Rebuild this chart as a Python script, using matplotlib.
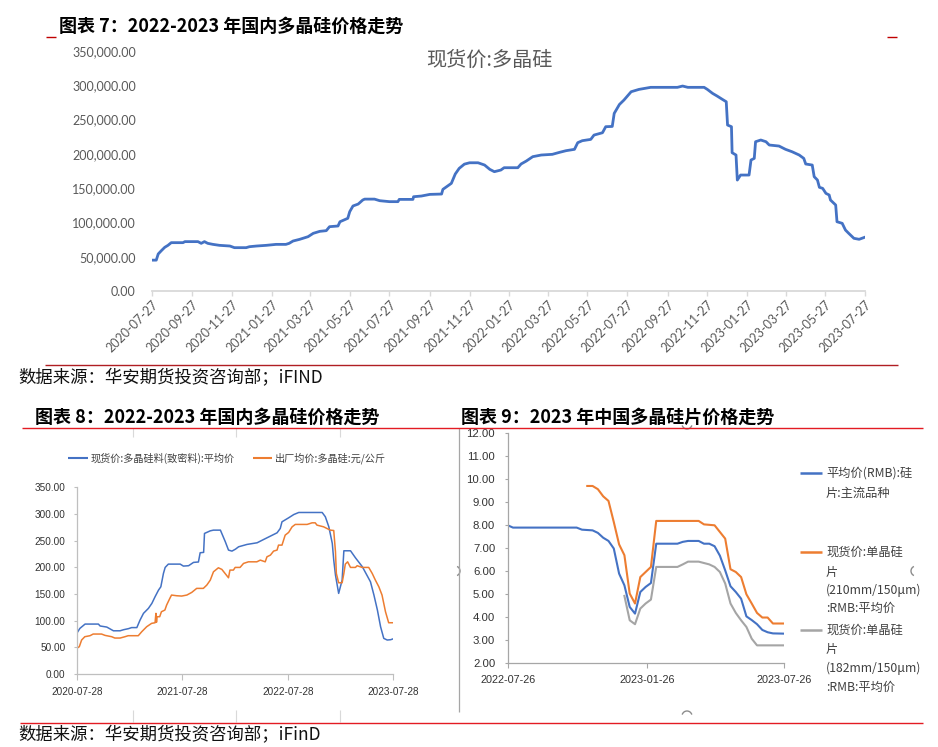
import matplotlib
matplotlib.use('Agg')
import matplotlib.pyplot as plt
from matplotlib.lines import Line2D
from matplotlib import patches
import pandas as pd

W, H = 938, 747
CJK = ['Noto Sans CJK SC', 'DejaVu Sans']
NUM_TOP = ['Lato', 'DejaVu Sans']
NARROW = ['Liberation Sans', 'DejaVu Sans']

# ---------------- data: chart 7 (现货价:多晶硅) ----------------
top_dates = ["2020-07-27", "2020-08-03", "2020-08-06", "2020-08-11", "2020-08-16", "2020-08-21", "2020-08-26",
             "2020-09-13", "2020-09-16", "2020-10-06", "2020-10-11", "2020-10-16", "2020-10-21", "2020-10-29",
             "2020-11-08", "2020-11-24", "2020-12-01", "2020-12-19", "2020-12-24", "2021-01-04", "2021-01-19",
             "2021-02-03", "2021-02-18", "2021-02-23", "2021-03-01", "2021-03-11", "2021-03-24", "2021-04-01",
             "2021-04-11", "2021-04-21", "2021-04-26", "2021-05-09", "2021-05-12", "2021-05-24", "2021-05-27",
             "2021-06-01", "2021-06-09", "2021-06-16", "2021-06-19", "2021-07-04", "2021-07-12", "2021-07-27",
             "2021-08-09", "2021-08-11", "2021-09-01", "2021-09-02", "2021-09-14", "2021-09-27", "2021-10-15",
             "2021-10-17", "2021-10-30", "2021-11-05", "2021-11-11", "2021-11-19", "2021-11-27", "2021-12-10",
             "2021-12-20", "2021-12-28", "2022-01-04", "2022-01-14", "2022-01-19", "2022-02-09", "2022-02-14",
             "2022-02-22", "2022-03-04", "2022-03-17", "2022-04-03", "2022-04-14", "2022-04-24", "2022-05-07",
             "2022-05-12", "2022-05-19", "2022-06-01", "2022-06-06", "2022-06-19", "2022-06-24", "2022-07-04",
             "2022-07-07", "2022-07-15", "2022-07-22", "2022-08-02", "2022-08-14", "2022-09-01", "2022-10-12",
             "2022-10-20", "2022-10-28", "2022-11-22", "2022-11-27", "2022-12-05", "2022-12-12", "2022-12-20",
             "2022-12-26", "2022-12-28", "2023-01-03", "2023-01-04", "2023-01-10", "2023-01-12", "2023-01-17",
             "2023-01-30", "2023-02-02", "2023-02-07", "2023-02-09", "2023-02-17", "2023-02-25", "2023-03-02",
             "2023-03-17", "2023-03-27", "2023-04-06", "2023-04-17", "2023-04-24", "2023-04-27", "2023-05-07",
             "2023-05-10", "2023-05-15", "2023-05-18", "2023-05-23", "2023-05-28", "2023-06-02", "2023-06-04",
             "2023-06-12", "2023-06-14", "2023-06-22", "2023-06-27", "2023-07-02", "2023-07-10", "2023-07-18",
             "2023-07-27"]
top_price = [45000, 45000, 54000, 59000, 63700, 66600, 70500,
             70500, 72000, 72000, 69500, 72000, 69500, 68000,
             66600, 65600, 63200, 63200, 64600, 65600, 66600,
             68000, 68000, 69500, 72900, 75300, 79200, 84100,
             87000, 88000, 93800, 94800, 101000, 106000, 115700,
             124000, 126800, 132700, 134000, 134000, 131700, 130300,
             130300, 133600, 133600, 137500, 138500, 140900, 141400,
             148200, 157000, 170600, 178800, 185000, 187000, 187000,
             183700, 177400, 174000, 176400, 179800, 179800, 185200,
             189500, 195900, 198300, 199300, 202200, 204600, 206600,
             216300, 219200, 221100, 227400, 230800, 239600, 240000,
             259000, 272000, 278500, 290600, 294000, 297000, 297000,
             298900, 297000, 297000, 294000, 288200, 284300, 279500,
             276000, 242000, 239600, 201700, 198300, 161800, 169100,
             169100, 191000, 193400, 217700, 220200, 217700, 212900,
             211400, 206600, 203100, 198300, 193400, 185200, 183700,
             166700, 161800, 151200, 149700, 142400, 140000, 132700,
             125400, 101000, 98700, 88900, 84100, 76800, 75400,
             78500]
top_xticks = ["2020-07-27", "2020-09-27", "2020-11-27", "2021-01-27", "2021-03-27", "2021-05-27",
              "2021-07-27", "2021-09-27", "2021-11-27", "2022-01-27", "2022-03-27", "2022-05-27",
              "2022-07-27", "2022-09-27", "2022-11-27", "2023-01-27", "2023-03-27", "2023-05-27",
              "2023-07-27"]
top_yticks = [0, 50000, 100000, 150000, 200000, 250000, 300000, 350000]

# ---------------- data: chart 8 ----------------
c8_spot_dates = ["2020-07-28", "2020-08-08", "2020-08-26", "2020-10-11", "2020-10-17", "2020-11-09", "2020-12-02",
                 "2020-12-25", "2021-01-06", "2021-01-23", "2021-02-03", "2021-02-21", "2021-03-04", "2021-03-16",
                 "2021-04-02", "2021-04-14", "2021-04-25", "2021-05-07", "2021-05-15", "2021-05-24", "2021-05-30",
                 "2021-06-10", "2021-07-21", "2021-08-01", "2021-08-19", "2021-09-05", "2021-09-22", "2021-09-28",
                 "2021-10-10", "2021-10-13", "2021-11-02", "2021-11-13", "2021-12-07", "2021-12-24", "2022-01-04",
                 "2022-01-16", "2022-01-28", "2022-02-08", "2022-03-09", "2022-04-13", "2022-05-06", "2022-05-29",
                 "2022-06-21", "2022-07-02", "2022-07-08", "2022-07-31", "2022-08-18", "2022-09-04", "2022-11-24",
                 "2022-12-05", "2022-12-17", "2022-12-29", "2023-01-03", "2023-01-09", "2023-01-20", "2023-02-01",
                 "2023-02-07", "2023-03-02", "2023-03-19", "2023-04-12", "2023-05-10", "2023-05-22", "2023-06-03",
                 "2023-06-14", "2023-06-25", "2023-07-07", "2023-07-19", "2023-07-28"]
c8_spot = [76, 85.5, 93.6, 93.6, 90, 88, 81,
           81, 83, 85, 87, 87, 101, 113.7,
           123, 132.4, 144.8, 157.3, 163.5, 188.6, 199.8,
           206, 206, 202.3, 203, 209.2, 210, 227.3,
           228, 263.5, 268.4, 269.7, 269.7, 247.9, 232.3,
           230.4, 234, 238.5, 242.9, 246, 252.3, 258.5,
           264.7, 272.8, 285.3, 292.8, 299, 302.8, 302.8,
           294.7, 275.9, 244.8, 213.5, 185.4, 151.1, 176,
           231, 231, 217.9, 201, 172.9, 148, 119.9,
           88.6, 66.8, 63.7, 64.3, 66]
c8_fac_dates = ["2020-07-28", "2020-08-06", "2020-08-14", "2020-08-25", "2020-09-12", "2020-09-23", "2020-10-22",
                "2020-11-03", "2020-11-26", "2020-12-07", "2020-12-25", "2021-01-11", "2021-01-22", "2021-02-26",
                "2021-03-10", "2021-03-27", "2021-04-13", "2021-04-25", "2021-04-28", "2021-04-30", "2021-05-02",
                "2021-05-11", "2021-05-17", "2021-05-29", "2021-06-04", "2021-06-15", "2021-06-21", "2021-07-09",
                "2021-07-26", "2021-08-13", "2021-08-30", "2021-09-16", "2021-10-09", "2021-10-21", "2021-11-02",
                "2021-11-13", "2021-11-30", "2021-12-12", "2021-12-23", "2022-01-04", "2022-01-09", "2022-01-21",
                "2022-01-27", "2022-02-13", "2022-02-25", "2022-03-14", "2022-04-12", "2022-04-24", "2022-05-11",
                "2022-05-17", "2022-05-29", "2022-06-09", "2022-06-21", "2022-06-26", "2022-07-08", "2022-07-19",
                "2022-07-31", "2022-08-12", "2022-08-23", "2022-10-03", "2022-10-20", "2022-10-31", "2022-11-06",
                "2022-11-29", "2022-12-22", "2023-01-03", "2023-01-09", "2023-01-12", "2023-01-20", "2023-02-01",
                "2023-02-07", "2023-02-12", "2023-02-20", "2023-03-02", "2023-03-19", "2023-03-25", "2023-04-11",
                "2023-05-04", "2023-05-16", "2023-05-27", "2023-06-08", "2023-06-19", "2023-07-01", "2023-07-12",
                "2023-07-28"]
c8_factory = [48, 51.2, 63.7, 69.9, 71.8, 74.9, 74.9,
              72.4, 69.9, 67.4, 67.4, 69.9, 71.8, 71.8,
              79.3, 88.6, 94.9, 96.1, 113.7, 97, 107.4,
              107.4, 116.7, 119.9, 129.2, 141.7, 148, 146.7,
              146.1, 148, 153, 160.5, 160.5, 166.7, 176,
              191.6, 199.1, 196.1, 188.6, 180.4, 194.8, 194.8,
              199.8, 199.8, 207.3, 210.3, 210.3, 213.5, 210.3,
              219.7, 222.9, 230.4, 232.3, 241.6, 241.6, 260.3,
              265.4, 275.9, 280.4, 280.4, 283.4, 283.4, 279.1,
              275.9, 269.7, 269, 229.1, 188.6, 171, 171,
              188.6, 206, 210.3, 199.8, 199.8, 203, 199.8,
              199.8, 188.6, 176, 163.5, 148, 116.7, 96.1,
              96.1]
c8_xticks = ["2020-07-28", "2021-07-28", "2022-07-28", "2023-07-28"]
c8_yticks = [0, 50, 100, 150, 200, 250, 300, 350]
c8_labels = ["现货价:多晶硅料(致密料):平均价", "出厂均价:多晶硅:元/公斤"]

# ---------------- data: chart 9 ----------------
c9_avg_dates = ["2022-07-26", "2022-08-02", "2022-10-25", "2022-11-01", "2022-11-15", "2022-11-22", "2022-11-29",
                "2022-12-06", "2022-12-13", "2022-12-20", "2022-12-27", "2023-01-03", "2023-01-10", "2023-01-17",
                "2023-01-24", "2023-01-31", "2023-02-07", "2023-03-07", "2023-03-14", "2023-03-21", "2023-04-04",
                "2023-04-11", "2023-04-18", "2023-04-25", "2023-05-02", "2023-05-09", "2023-05-16", "2023-05-23",
                "2023-05-30", "2023-06-06", "2023-06-13", "2023-06-20", "2023-06-27", "2023-07-04", "2023-07-11",
                "2023-07-25"]
c9_avg = [8.00, 7.90, 7.90, 7.81, 7.78, 7.67, 7.46,
          7.32, 6.99, 5.90, 5.39, 4.45, 4.16, 5.10,
          5.32, 5.49, 7.20, 7.20, 7.28, 7.32, 7.32,
          7.20, 7.20, 7.09, 6.68, 6.04, 5.35, 5.10,
          4.81, 4.04, 3.88, 3.70, 3.45, 3.35, 3.30,
          3.29]
c9_210_dates = ["2022-11-08", "2022-11-15", "2022-11-22", "2022-11-29", "2022-12-06", "2022-12-13", "2022-12-20",
                "2022-12-27", "2023-01-03", "2023-01-10", "2023-01-17", "2023-01-24", "2023-01-31", "2023-02-07",
                "2023-04-04", "2023-04-11", "2023-04-25", "2023-05-02", "2023-05-09", "2023-05-16", "2023-05-23",
                "2023-05-30", "2023-06-06", "2023-06-13", "2023-06-20", "2023-06-27", "2023-07-04", "2023-07-11",
                "2023-07-25"]
c9_210 = [9.71, 9.71, 9.57, 9.26, 9.06, 8.14, 7.17,
          6.70, 5.03, 4.60, 5.75, 5.97, 6.19, 8.19,
          8.19, 8.04, 8.00, 7.71, 7.42, 6.09, 5.97,
          5.75, 5.00, 4.60, 4.19, 3.99, 3.99, 3.73,
          3.73]
c9_182_dates = ["2022-12-27", "2023-01-03", "2023-01-10", "2023-01-17", "2023-01-24", "2023-01-31", "2023-02-07",
                "2023-03-07", "2023-03-14", "2023-03-21", "2023-04-04", "2023-04-11", "2023-04-18", "2023-04-25",
                "2023-05-02", "2023-05-09", "2023-05-16", "2023-05-23", "2023-05-30", "2023-06-06", "2023-06-13",
                "2023-06-20", "2023-07-25"]
c9_182 = [4.93, 3.87, 3.70, 4.38, 4.60, 4.77, 6.19,
          6.19, 6.30, 6.42, 6.42, 6.36, 6.30, 6.19,
          5.97, 5.47, 4.60, 4.19, 3.87, 3.58, 3.07,
          2.78, 2.78]
c9_xticks = ["2022-07-26", "2023-01-26", "2023-07-26"]
c9_yticks = [2, 3, 4, 5, 6, 7, 8, 9, 10, 11, 12]
c9_labels = [["平均价(RMB):硅", "片:主流品种"],
             ["现货价:单晶硅", "片", "(210mm/150μm)", ":RMB:平均价"],
             ["现货价:单晶硅", "片", "(182mm/150μm)", ":RMB:平均价"]]

titles = ["图表 7：2022-2023 年国内多晶硅价格走势",
          "图表 8：2022-2023 年国内多晶硅价格走势",
          "图表 9：2023 年中国多晶硅片价格走势"]
source_1 = "数据来源：华安期货投资咨询部；iFIND"
source_2 = "数据来源：华安期货投资咨询部；iFinD"
top_inner_title = "现货价:多晶硅"

BLUE, ORANGE, GRAY = '#4472C4', '#ED7D31', '#A5A5A5'

fig = plt.figure(figsize=(W / 100, H / 100), dpi=100)


def fx(x):
    return x / W


def fy(y):
    return 1 - y / H


def axes_px(x0, y0, x1, y1):
    return fig.add_axes([x0 / W, 1 - y1 / H, (x1 - x0) / W, (y1 - y0) / H])


def seg(x0, y0, x1, y1, color, lw):
    fig.add_artist(Line2D([fx(x0), fx(x1)], [fy(y0), fy(y1)], transform=fig.transFigure,
                          color=color, lw=lw, solid_capstyle='butt'))


def txt(x, y, s, **kw):
    kw.setdefault('va', 'center')
    kw.setdefault('family', CJK)
    fig.text(fx(x), fy(y), s, **kw)


# ================= chart 7 =================
ax1 = axes_px(151.7, 51.0, 865.0, 291.0)
ax1.plot(pd.to_datetime(top_dates), top_price, color=BLUE, lw=2.0)
ax1.set_xlim(pd.Timestamp("2020-07-27"), pd.Timestamp("2023-07-27"))
ax1.set_ylim(0, 350000)
ax1.set_yticks(top_yticks)
ax1.set_yticklabels([f"{v:,.2f}" for v in top_yticks], family=NUM_TOP, fontsize=9, color='#595959')
ax1.set_xticks(pd.to_datetime(top_xticks))
ax1.set_xticklabels(top_xticks, family=NUM_TOP, fontsize=9, color='#595959',
                    rotation=45, ha='right', rotation_mode='anchor')
for s in ['top', 'right', 'left']:
    ax1.spines[s].set_visible(False)
ax1.spines['bottom'].set_color('#D9D9D9')
ax1.spines['bottom'].set_linewidth(1.3)
ax1.tick_params(axis='y', length=0, pad=11.5)
ax1.tick_params(axis='x', length=3.5, width=1, color='#D9D9D9', direction='out', pad=2)
txt(489, 60, top_inner_title, ha='center', fontsize=14.5, color='#595959')

txt(59, 26, titles[0], ha='left', fontsize=13, fontweight='bold', color='black')
seg(46, 37, 56, 37, '#C00000', 1.0)
seg(887, 37, 897, 37, '#C00000', 1.0)
seg(45, 365, 898, 365, '#B01E23', 1.0)
txt(18, 378, source_1, ha='left', fontsize=12.5, color='#111111')

# ================= chart 8 =================
txt(35, 417, titles[1], ha='left', fontsize=13, fontweight='bold', color='black')
ax2 = axes_px(76.7, 487.3, 393.3, 674.0)
ax2.plot(pd.to_datetime(c8_spot_dates), c8_spot, color=BLUE, lw=1.1)
ax2.plot(pd.to_datetime(c8_fac_dates), c8_factory, color=ORANGE, lw=1.1)
ax2.set_xlim(pd.Timestamp("2020-07-28"), pd.Timestamp("2023-07-28"))
ax2.set_ylim(0, 350)
ax2.set_yticks(c8_yticks)
ax2.set_yticklabels([f"{v:.2f}" for v in c8_yticks], family=NARROW, fontsize=7.2, color='#333333')
ax2.set_xticks(pd.to_datetime(c8_xticks))
ax2.set_xticklabels(c8_xticks, family=NARROW, fontsize=7.2, color='#333333')
for s in ['top', 'right']:
    ax2.spines[s].set_visible(False)
for s in ['left', 'bottom']:
    ax2.spines[s].set_color('#BFBFBF')
    ax2.spines[s].set_linewidth(0.9)
ax2.tick_params(axis='y', length=2.5, width=0.8, color='#BFBFBF', pad=5.5)
ax2.tick_params(axis='x', length=4.3, width=0.8, color='#BFBFBF', pad=5)

# legend chart 8
seg(68, 458, 88, 458, BLUE, 1.5)
txt(91, 458, c8_labels[0], ha='left', fontsize=7.3, color='#404040')
seg(253, 458, 272, 458, ORANGE, 1.5)
txt(275, 458, c8_labels[1], ha='left', fontsize=7.3, color='#404040')

# faint frame ticks of embedded picture
for xv in (133, 236, 340):
    seg(xv, 428, xv, 437, '#D9D9D9', 0.8)
    seg(xv, 710, xv, 722, '#D9D9D9', 0.8)

# ================= chart 9 =================
txt(461, 417, titles[2], ha='left', fontsize=13, fontweight='bold', color='black')
ax3 = axes_px(507.7, 433.3, 784.3, 663.3)
ax3.plot(pd.to_datetime(c9_avg_dates), c9_avg, color=BLUE, lw=1.5)
ax3.plot(pd.to_datetime(c9_210_dates), c9_210, color=ORANGE, lw=1.5)
ax3.plot(pd.to_datetime(c9_182_dates), c9_182, color=GRAY, lw=1.5)
ax3.set_xlim(pd.Timestamp("2022-07-26"), pd.Timestamp("2023-07-26"))
ax3.set_ylim(2, 12)
ax3.set_yticks(c9_yticks)
ax3.set_yticklabels([f"{v:.2f}" for v in c9_yticks], family=NARROW, fontsize=8.2, color='#333333')
ax3.set_xticks(pd.to_datetime(c9_xticks))
ax3.set_xticklabels(c9_xticks, family=NARROW, fontsize=7.8, color='#333333')
for s in ['top', 'right']:
    ax3.spines[s].set_visible(False)
for s in ['left', 'bottom']:
    ax3.spines[s].set_color('#A6A6A6')
    ax3.spines[s].set_linewidth(0.9)
ax3.tick_params(axis='y', length=2.5, width=0.8, color='#A6A6A6', pad=6.5)
ax3.tick_params(axis='x', length=3.6, width=0.8, color='#A6A6A6', pad=5)

# legend chart 9
leg_y = [[473, 493], [552, 572, 590, 608], [630, 649, 668, 687]]
for col, lines, ys in zip([BLUE, ORANGE, GRAY], c9_labels, leg_y):
    seg(800, ys[0], 822, ys[0], col, 1.8)
    for s, yy in zip(lines, ys):
        txt(826, yy, s, ha='left', fontsize=8.8, color='#404040')

# frame of embedded picture (chart 9)
seg(458.5, 428, 458.5, 712, '#A6A6A6', 0.9)
for (cx, cy, t1, t2) in [(455, 571, -70, 70), (916, 571, 110, 250), (687, 424, 200, 340), (687, 716, 20, 160)]:
    fig.add_artist(patches.Arc((fx(cx), fy(cy)), 10 / W, 10 / H, theta1=t1, theta2=t2,
                               transform=fig.transFigure, color='#8C8C8C', lw=1.0))

seg(22, 428, 923, 428, '#E31B23', 1.0)
seg(20, 723, 923, 723, '#E31B23', 1.0)
txt(18, 735, source_2, ha='left', fontsize=12.5, color='#111111')

fig.savefig('out.png', dpi=100)
